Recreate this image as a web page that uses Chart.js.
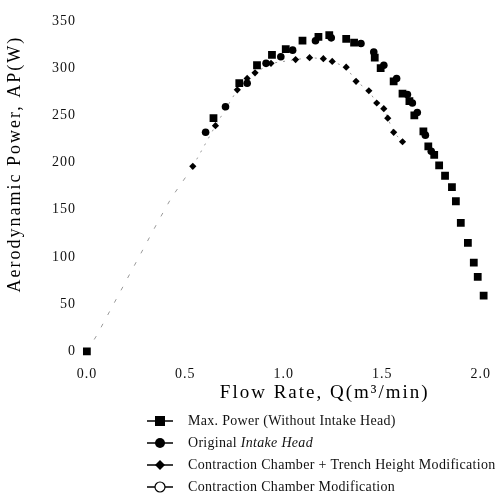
<!DOCTYPE html>
<html>
<head>
<meta charset="utf-8">
<script src="https://cdn.jsdelivr.net/npm/chart.js@4.4.0/dist/chart.umd.min.js"></script>
<style>
  html, body { margin: 0; padding: 0; background: #fff; }
  #wrap { width: 498px; height: 499px; }
</style>
</head>
<body>
<div id="wrap"><canvas id="powerChart" width="498" height="499"></canvas></div>
<script>
// --- DATA ---
const maxPowerQ  = [0, 0.643, 0.774, 0.864, 0.940, 1.010, 1.095, 1.176, 1.231, 1.317, 1.357, 1.462, 1.492, 1.558, 1.603, 1.638, 1.663, 1.709, 1.734, 1.764, 1.789, 1.819, 1.854, 1.874, 1.899, 1.935, 1.965, 1.985, 2.015];
const maxPowerAP = [0, 247, 284, 303, 314, 320, 329, 333, 335, 331, 327, 311, 300, 286, 273, 265, 250, 233, 217, 208, 197, 186, 174, 159, 136, 115, 94, 79, 59];

const originalQ  = [0.603, 0.704, 0.814, 0.910, 0.985, 1.045, 1.161, 1.241, 1.392, 1.457, 1.508, 1.573, 1.628, 1.653, 1.678, 1.719, 1.749];
const originalAP = [232, 259, 284, 305, 312, 319, 329, 332, 326, 317, 303, 289, 272, 263, 253, 229, 212];

const trenchQ  = [0.538, 0.653, 0.764, 0.814, 0.854, 0.935, 1.060, 1.131, 1.201, 1.246, 1.317, 1.367, 1.432, 1.472, 1.508, 1.528, 1.558, 1.603];
const trenchAP = [196, 239, 277, 289, 295, 305, 309, 311, 310, 307, 301, 286, 276, 263, 257, 247, 232, 222];

// faint dotted curve from the origin (open-circle series, markers lost in the scan)
const chamberQ  = [0, 0.05, 0.36, 0.43, 0.54];
const chamberAP = [0, 17, 137, 163, 196];

const qTicks  = [0, 0.5, 1.0, 1.5, 2.0];
const apTicks = [0, 50, 100, 150, 200, 250, 300, 350];

const seriesLabels = [
  'Max. Power (Without Intake Head)',
  'Original Intake Head',
  'Contraction Chamber + Trench Height Modification',
  'Contraction Chamber Modification'
];

const SERIF = "'Liberation Serif', 'DejaVu Serif', serif";

function toPoints(xs, ys) {
  return xs.map((x, i) => ({ x: x, y: ys[i] }));
}

// Axis titles and ticks in the figure are letter-spaced, titles sit off-centre
const spacedText = {
  id: 'spacedText',
  afterLayout(chart) {
    Object.values(chart.scales).forEach(scale => {
      if (scale._spaced) return;
      const origTitle = scale.drawTitle.bind(scale);
      const origLabels = scale.drawLabels.bind(scale);
      scale.drawTitle = function () {
        const c = this.ctx;
        c.save();
        c.letterSpacing = '2px';
        if (this.id === 'y') c.translate(0, -21);
        else c.translate(39, 0);
        origTitle();
        c.restore();
      };
      scale.drawLabels = function (area) {
        const c = this.ctx;
        c.save();
        c.letterSpacing = '1px';
        origLabels(area);
        c.restore();
      };
      scale._spaced = true;
    });
  }
};

// Vertical legend under the plot, line drawn through each marker
const stackedLegend = {
  id: 'stackedLegend',
  afterDraw(chart) {
    const ctx = chart.ctx;
    const rows = [421, 443, 465, 487];
    const mx = 160;
    ctx.save();
    ctx.letterSpacing = '0.3px';
    rows.forEach((y, i) => {
      ctx.strokeStyle = '#000';
      ctx.fillStyle = '#000';
      ctx.lineWidth = 1.5;
      ctx.beginPath();
      ctx.moveTo(147, y);
      ctx.lineTo(173, y);
      ctx.stroke();

      ctx.beginPath();
      if (i === 0) {
        ctx.rect(mx - 5, y - 5, 10, 10);
        ctx.fill();
      } else if (i === 1) {
        ctx.arc(mx, y, 5, 0, Math.PI * 2);
        ctx.fill();
      } else if (i === 2) {
        ctx.moveTo(mx, y - 5); ctx.lineTo(mx + 5, y); ctx.lineTo(mx, y + 5); ctx.lineTo(mx - 5, y);
        ctx.closePath();
        ctx.fill();
      } else {
        ctx.arc(mx, y, 5, 0, Math.PI * 2);
        ctx.fillStyle = '#fff';
        ctx.fill();
        ctx.lineWidth = 1.2;
        ctx.stroke();
      }

      ctx.fillStyle = '#111';
      ctx.textBaseline = 'middle';
      ctx.textAlign = 'left';
      if (i === 1) {
        ctx.font = '14px ' + SERIF;
        const head = 'Original ';
        ctx.fillText(head, 188, y);
        const w = ctx.measureText(head).width;
        ctx.font = 'italic 14px ' + SERIF;
        ctx.fillText('Intake Head', 188 + w, y);
      } else {
        ctx.font = '14px ' + SERIF;
        ctx.fillText(seriesLabels[i], 188, y);
      }
    });
    ctx.restore();
  }
};

const ctx = document.getElementById('powerChart').getContext('2d');

new Chart(ctx, {
  type: 'scatter',
  data: {
    datasets: [
      {
        label: seriesLabels[0],
        data: toPoints(maxPowerQ, maxPowerAP),
        pointStyle: 'rect',
        pointRadius: 5.5,
        backgroundColor: '#000',
        borderColor: '#000',
        borderWidth: 0,
        showLine: false
      },
      {
        label: seriesLabels[1],
        data: toPoints(originalQ, originalAP),
        pointStyle: 'circle',
        pointRadius: 3.8,
        backgroundColor: '#000',
        borderColor: '#000',
        borderWidth: 0,
        showLine: false
      },
      {
        label: seriesLabels[2],
        data: toPoints(trenchQ, trenchAP),
        pointStyle: 'rectRot',
        pointRadius: 3.6,
        pointBackgroundColor: '#000',
        pointBorderColor: '#000',
        pointBorderWidth: 0,
        borderColor: '#999',
        borderWidth: 1,
        borderDash: [2, 6],
        showLine: true
      },
      {
        label: seriesLabels[3],
        data: toPoints(chamberQ, chamberAP),
        pointRadius: 0,
        borderColor: '#999',
        borderWidth: 1,
        borderDash: [4, 10],
        showLine: true
      }
    ]
  },
  options: {
    responsive: false,
    animation: false,
    layout: { padding: { top: 6, right: 1, bottom: 95, left: 0 } },
    plugins: {
      legend: { display: false },
      tooltip: { enabled: false }
    },
    scales: {
      x: {
        type: 'linear',
        min: -0.04,
        max: 2.06,
        grid: { display: false, drawTicks: false },
        border: { display: false },
        afterBuildTicks: scale => { scale.ticks = qTicks.map(v => ({ value: v })); },
        afterFit: scale => { scale.height = 45; },
        ticks: {
          padding: 7,
          maxRotation: 0,
          autoSkip: false,
          color: '#111',
          font: { family: SERIF, size: 14 },
          callback: v => Number(v).toFixed(1)
        },
        title: {
          display: true,
          text: 'Flow Rate, Q(m\u00B3/min)',
          color: '#000',
          font: { family: SERIF, size: 19 },
          padding: { top: 0, bottom: 0 }
        }
      },
      y: {
        type: 'linear',
        min: -8,
        max: 360,
        grid: { display: false, drawTicks: false },
        border: { display: false },
        afterBuildTicks: scale => { scale.ticks = apTicks.map(v => ({ value: v })); },
        afterFit: scale => { scale.width = 79; },
        ticks: {
          padding: 3,
          autoSkip: false,
          color: '#111',
          font: { family: SERIF, size: 14 }
        },
        title: {
          display: true,
          text: 'Aerodynamic Power, AP(W)',
          color: '#000',
          font: { family: SERIF, size: 18 },
          padding: { top: 4, bottom: 0 }
        }
      }
    }
  },
  plugins: [spacedText, stackedLegend]
});
</script>
</body>
</html>
